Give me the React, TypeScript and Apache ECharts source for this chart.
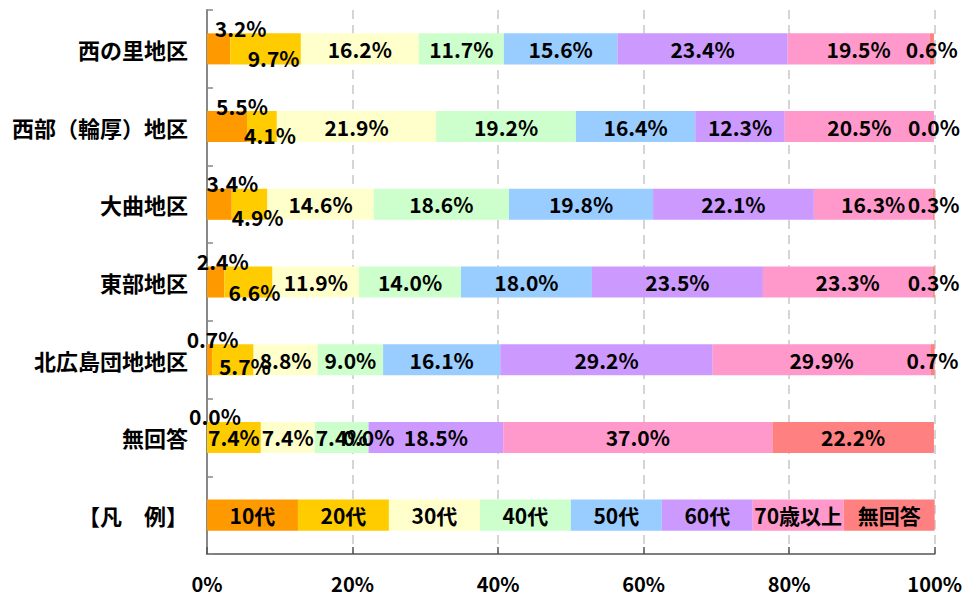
import React, { useEffect, useRef } from 'react';
import * as echarts from 'echarts';

// ---- data ----
const categories = ['西の里地区', '西部（輪厚）地区', '大曲地区', '東部地区', '北広島団地地区', '無回答', '【凡　例】'];
const seriesNames = ['10代', '20代', '30代', '40代', '50代', '60代', '70歳以上', '無回答'];

const teens = [3.2, 5.5, 3.4, 2.4, 0.7, 0.0];
const twenties = [9.7, 4.1, 4.9, 6.6, 5.7, 7.4];
const thirties = [16.2, 21.9, 14.6, 11.9, 8.8, 7.4];
const forties = [11.7, 19.2, 18.6, 14.0, 9.0, 7.4];
const fifties = [15.6, 16.4, 19.8, 18.0, 16.1, 0.0];
const sixties = [23.4, 12.3, 22.1, 23.5, 29.2, 18.5];
const seventies = [19.5, 20.5, 16.3, 23.3, 29.9, 37.0];
const noAnswer = [0.6, 0.0, 0.3, 0.3, 0.7, 22.2];
// the legend row: eight equal swatches
const legendShare = 12.5;

const xTicks = [0, 20, 40, 60, 80, 100];

// ---- styling ----
const colors = ['#FF9900', '#FFCC00', '#FFFFCC', '#CCFFCC', '#99CCFF', '#CC99FF', '#FF99CC', '#FF8080'];
const FONT = '"Noto Sans CJK JP", "Noto Sans", sans-serif';
// manual label nudges (as in the original, [dx, dy] px)
const teensLabelShift = [[22, 5], [15, 5], [13, 5], [7, 5], [3, 5], [8, 5]];
const twentiesLabelShift = [[8, 9], [8, 8], [8, 13], [6, 10], [12, 6], [0, 0]];

const seriesData = [teens, twenties, thirties, forties, fifties, sixties, seventies, noAnswer];

function buildOption(): echarts.EChartsCoreOption {
  const series = seriesNames.map((name, s) => {
    const rows = seriesData[s].map((v, i) => {
      if (s === 0) {
        return { value: v, label: { position: 'top', distance: 0, offset: teensLabelShift[i] } };
      }
      if (s === 1) {
        return { value: v, label: { offset: twentiesLabelShift[i] } };
      }
      return { value: v };
    });
    rows.push({ value: legendShare, label: { formatter: name } } as any);
    return {
      type: 'bar',
      name,
      stack: 'total',
      barWidth: '40%',
      itemStyle: { color: colors[s] },
      label: {
        show: true,
        position: 'inside',
        color: '#000',
        fontSize: 21,
        fontWeight: 'bold',
        fontFamily: FONT,
        formatter: (p: any) => Number(p.value).toFixed(1) + '%',
      },
      data: rows,
    };
  });

  return {
    animation: false,
    backgroundColor: '#fff',
    textStyle: { fontFamily: FONT },
    grid: { left: 207, right: 27, top: 10, bottom: 42 },
    xAxis: {
      type: 'value',
      min: xTicks[0],
      max: xTicks[xTicks.length - 1],
      interval: xTicks[1] - xTicks[0],
      axisLine: { show: true, lineStyle: { color: '#555', width: 1.5 } },
      axisTick: { show: true, inside: true, length: 7, lineStyle: { color: '#555', width: 1.5 } },
      axisLabel: {
        formatter: (v: number) => v + '%',
        color: '#000',
        fontSize: 20,
        fontWeight: 'bold',
        fontFamily: FONT,
        margin: 19,
      },
      splitLine: { show: true, lineStyle: { color: '#c8c8c8', type: [9, 6], width: 1.5 } },
    },
    yAxis: {
      type: 'category',
      data: categories,
      inverse: true,
      axisLine: { show: true, lineStyle: { color: '#888', width: 2 } },
      axisTick: { show: true, inside: true, length: 6, lineStyle: { color: '#888', width: 1.5 } },
      axisLabel: {
        color: '#000',
        fontSize: 22,
        fontWeight: 'bold',
        fontFamily: FONT,
        margin: 19,
      },
      splitLine: { show: false },
    },
    series,
  };
}

export default function App() {
  const ref = useRef<HTMLDivElement>(null);
  useEffect(() => {
    if (!ref.current) return;
    const chart = echarts.init(ref.current, null, { renderer: 'svg' });
    chart.setOption(buildOption());
    return () => chart.dispose();
  }, []);
  return (
    <div
      ref={ref}
      style={{ position: 'absolute', left: 0, top: 0, width: 965, height: 596, background: '#fff' }}
    />
  );
}
